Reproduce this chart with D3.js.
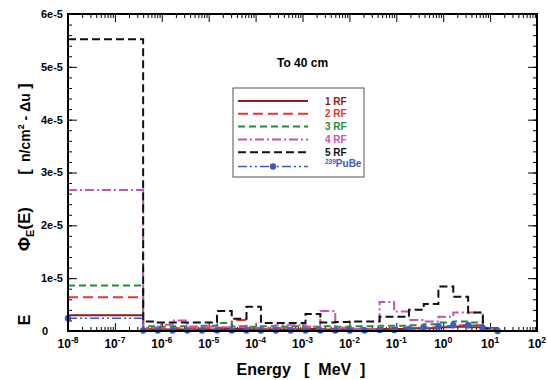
<!DOCTYPE html>
<html>
<head>
<meta charset="utf-8">
<script src="https://cdn.jsdelivr.net/npm/d3@7/dist/d3.min.js"></script>
<style>
body { margin: 0; background: #fff; }
text { font-family: "Liberation Sans", Arial, sans-serif; font-weight: bold; }
</style>
</head>
<body>
<div id="chart"></div>
<script>
// bin edges in MeV (first bin is the wide thermal group)
var energyEdges = [1e-8, 4.0e-7, 8.2e-7, 1.7e-6, 3.5e-6, 7.2e-6, 1.5e-5, 3.1e-5, 6.4e-5,
    1.3e-4, 2.7e-4, 5.6e-4, 1.16e-3, 2.4e-3, 5.0e-3, 1.02e-2, 2.1e-2, 4.4e-2, 9.0e-2,
    0.186, 0.385, 0.79, 1.64, 3.4, 7.0, 14.5];

var rf1 = [3.0e-6, 0.3e-6, 0.3e-6, 0.3e-6, 0.3e-6, 0.3e-6, 0.4e-6, 0.4e-6, 0.3e-6, 0.3e-6,
    0.3e-6, 0.3e-6, 0.4e-6, 0.3e-6, 0.3e-6, 0.3e-6, 0.3e-6, 0.4e-6, 0.4e-6, 0.5e-6,
    0.5e-6, 0.7e-6, 0.8e-6, 0.7e-6, 0.1e-6];
var rf2 = [6.4e-6, 0.4e-6, 0.4e-6, 0.5e-6, 0.4e-6, 0.5e-6, 0.6e-6, 2.1e-6, 0.5e-6, 0.4e-6,
    0.5e-6, 0.4e-6, 0.5e-6, 0.4e-6, 0.4e-6, 0.5e-6, 0.4e-6, 0.5e-6, 0.6e-6, 0.6e-6,
    0.7e-6, 0.9e-6, 1.1e-6, 1.1e-6, 0.2e-6];
var rf3 = [8.6e-6, 0.9e-6, 0.8e-6, 0.9e-6, 0.8e-6, 1.0e-6, 1.5e-6, 0.9e-6, 0.8e-6, 0.9e-6,
    0.8e-6, 0.9e-6, 0.8e-6, 0.9e-6, 0.8e-6, 0.9e-6, 0.9e-6, 1.0e-6, 1.0e-6, 1.1e-6,
    1.3e-6, 1.6e-6, 1.8e-6, 1.6e-6, 0.3e-6];
var rf4 = [2.67e-5, 0.6e-6, 1.2e-6, 2.0e-6, 0.8e-6, 0.8e-6, 0.7e-6, 0.7e-6, 0.6e-6, 0.6e-6,
    1.1e-6, 1.1e-6, 0.8e-6, 3.8e-6, 0.6e-6, 0.4e-6, 0.3e-6, 5.5e-6, 3.7e-6, 2.1e-6,
    1.8e-6, 2.7e-6, 3.5e-6, 3.5e-6, 0.3e-6];
var rf5 = [5.52e-5, 1.8e-6, 1.6e-6, 1.6e-6, 1.6e-6, 1.6e-6, 3.8e-6, 2.3e-6, 4.6e-6, 1.5e-6,
    1.5e-6, 1.5e-6, 3.2e-6, 1.6e-6, 1.7e-6, 1.8e-6, 1.8e-6, 2.7e-6, 2.7e-6, 4.0e-6,
    5.1e-6, 8.4e-6, 6.5e-6, 3.5e-6, 0.5e-6];
var pube = [2.4e-6, 0.1e-6, 0.1e-6, 0.1e-6, 0.1e-6, 0.1e-6, 0.1e-6, 0.1e-6, 0.1e-6, 0.1e-6,
    0.1e-6, 0.1e-6, 0.1e-6, 0.1e-6, 0.1e-6, 0.1e-6, 0.1e-6, 0.2e-6, 0.2e-6, 0.4e-6,
    0.6e-6, 0.9e-6, 1.1e-6, 1.1e-6, 0.6e-6];

var yTicks = [0, 1e-5, 2e-5, 3e-5, 4e-5, 5e-5, 6e-5];
var yTickLabels = ["0", "1e-5", "2e-5", "3e-5", "4e-5", "5e-5", "6e-5"];
var xDecades = [-8, -7, -6, -5, -4, -3, -2, -1, 0, 1, 2];

var series = [
    { name: "1 RF", values: rf1, color: "#8e1b1b", dash: null, width: 2 },
    { name: "2 RF", values: rf2, color: "#ec3328", dash: "10,5", width: 2 },
    { name: "3 RF", values: rf3, color: "#238b3a", dash: "7,4", width: 2 },
    { name: "4 RF", values: rf4, color: "#c454b6", dash: "9,3,2,3", width: 2 },
    { name: "5 RF", values: rf5, color: "#111111", dash: "8,4", width: 2 },
    { name: "PuBe", values: pube, color: "#3b5bc2", dash: "9,3,2,3,2,3", width: 1.5, marker: true }
];

var W = 548, H = 380;
var margin = { left: 68, right: 11, top: 14, bottom: 49 };
var iw = W - margin.left - margin.right;
var ih = H - margin.top - margin.bottom;

var svg = d3.select("#chart").append("svg")
    .attr("width", W)
    .attr("height", H);

var x = d3.scaleLog().domain([1e-8, 1e2]).range([0, iw]);
var y = d3.scaleLinear().domain([0, 6e-5]).range([ih, 0]);

var g = svg.append("g").attr("transform", "translate(" + margin.left + "," + margin.top + ")");

// minor/major ticks, all pointing inward, mirrored on all four sides
var minorY = d3.range(0, 6.01e-5, 2e-6);
var minorX = [];
d3.range(-8, 2).forEach(function(p) {
    for (var k = 2; k <= 9; k++) minorX.push(k * Math.pow(10, p));
});
var majorX = xDecades.map(function(p) { return Math.pow(10, p); });

function tickAxis(axisFn, scale, vals, size, tr) {
    var a = g.append("g")
        .attr("transform", tr)
        .call(axisFn(scale).tickValues(vals).tickSize(size).tickSizeOuter(0).tickFormat(""));
    a.select(".domain").remove();
    a.selectAll("line").attr("stroke", "#000").attr("stroke-width", 1);
}
tickAxis(d3.axisBottom, x, minorX, -4, "translate(0," + ih + ")");
tickAxis(d3.axisBottom, x, majorX, -8, "translate(0," + ih + ")");
tickAxis(d3.axisTop, x, minorX, -4, "translate(0,0)");
tickAxis(d3.axisTop, x, majorX, -8, "translate(0,0)");
tickAxis(d3.axisLeft, y, minorY, -4, "translate(0,0)");
tickAxis(d3.axisLeft, y, yTicks, -9, "translate(0,0)");
tickAxis(d3.axisRight, y, minorY, -4, "translate(" + iw + ",0)");
tickAxis(d3.axisRight, y, yTicks, -9, "translate(" + iw + ",0)");

// step curves
var line = d3.line()
    .x(function(d) { return x(d[0]); })
    .y(function(d) { return y(d[1]); })
    .curve(d3.curveStepAfter);

function stepPoints(vals) {
    var pts = vals.map(function(v, i) { return [energyEdges[i], v]; });
    var last = energyEdges[energyEdges.length - 1];
    pts.push([last, vals[vals.length - 1]]);
    pts.push([last, 0]);
    return pts;
}

var plot = g.append("g");
series.forEach(function(s) {
    plot.append("path")
        .attr("d", line(stepPoints(s.values)))
        .attr("fill", "none")
        .attr("stroke", s.color)
        .attr("stroke-width", s.width)
        .attr("stroke-dasharray", s.dash);
    if (s.marker) {
        var pts = s.values.map(function(v, i) { return [energyEdges[i], v]; });
        pts.push([energyEdges[energyEdges.length - 1], 0]);
        plot.selectAll(".mk")
            .data(pts)
            .enter()
            .append("circle")
            .attr("cx", function(d) { return x(d[0]); })
            .attr("cy", function(d) { return y(d[1]); })
            .attr("r", 3.2)
            .attr("fill", s.color);
    }
});

// frame
g.append("rect")
    .attr("width", iw)
    .attr("height", ih)
    .attr("fill", "none")
    .attr("stroke", "#000")
    .attr("stroke-width", 2);

// y tick labels
g.selectAll(".ylab")
    .data(yTicks)
    .enter()
    .append("text")
    .attr("x", function(d) { return d === 0 ? -23 : -5; })
    .attr("y", function(d) { return y(d); })
    .attr("dy", "0.35em")
    .attr("text-anchor", function(d) { return d === 0 ? "middle" : "end"; })
    .attr("font-size", 11)
    .text(function(d, i) { return yTickLabels[i]; });

// x tick labels 10^n
var xl = g.selectAll(".xlab")
    .data(xDecades)
    .enter()
    .append("text")
    .attr("x", function(d) { return x(Math.pow(10, d)); })
    .attr("y", ih + 17)
    .attr("text-anchor", "middle")
    .attr("font-size", 12);
xl.append("tspan").text("10");
xl.append("tspan")
    .attr("dy", -5)
    .attr("font-size", 8.5)
    .text(function(d) { return d; });

// axis titles
svg.append("text")
    .attr("x", 301)
    .attr("y", 375)
    .attr("text-anchor", "middle")
    .attr("font-size", 16)
    .style("white-space", "pre")
    .text("Energy   [  MeV  ]");

var ytitle = svg.append("g").attr("transform", "translate(30,0) rotate(-90)");
ytitle.append("text").attr("x", -320).attr("text-anchor", "middle").attr("font-size", 16).text("E");
var phi = ytitle.append("text").attr("x", -251).attr("font-size", 17);
phi.append("tspan").text("\u03A6");
phi.append("tspan").attr("dy", 4).attr("font-size", 11).text("E");
phi.append("tspan").attr("dy", -4).text("(E)");
ytitle.append("text").attr("x", -172).attr("text-anchor", "middle").attr("font-size", 16).text("[");
var unit = ytitle.append("text").attr("x", -162).attr("font-size", 14);
unit.append("tspan").text("n/cm");
unit.append("tspan").attr("dy", -6).attr("font-size", 9).text("2");
unit.append("tspan").attr("dy", 6).text(" - \u0394u");
ytitle.append("text").attr("x", -86).attr("text-anchor", "middle").attr("font-size", 16).text("]");

// annotation
svg.append("text")
    .attr("x", 277)
    .attr("y", 67)
    .attr("font-size", 12)
    .text("To 40 cm");

// legend
var lg = svg.append("g").attr("transform", "translate(233,88)");
lg.append("rect")
    .attr("width", 131)
    .attr("height", 89)
    .attr("fill", "#fff")
    .attr("stroke", "#555")
    .attr("stroke-width", 1);
var rows = lg.selectAll(".row")
    .data(series)
    .enter()
    .append("g")
    .attr("transform", function(d, i) { return "translate(0," + (13 + i * 12.8 + (d.marker ? 1.5 : 0)) + ")"; });
rows.append("line")
    .attr("x1", 5)
    .attr("x2", 75)
    .attr("stroke", function(d) { return d.color; })
    .attr("stroke-width", function(d) { return d.width; })
    .attr("stroke-dasharray", function(d) { return d.dash; });
rows.filter(function(d) { return d.marker; })
    .append("circle")
    .attr("cx", 40)
    .attr("r", 3.2)
    .attr("fill", function(d) { return d.color; });
var lt = rows.append("text")
    .attr("x", 92)
    .attr("dy", "0.35em")
    .attr("font-size", 10)
    .attr("fill", function(d) { return d.color; });
lt.each(function(d) {
    var t = d3.select(this);
    if (d.marker) {
        t.append("tspan").attr("font-size", 6.5).attr("dy", -2.5).text("239");
        t.append("tspan").attr("dy", 2.5).text("PuBe");
    } else {
        t.text(d.name);
    }
});
</script>
</body>
</html>
